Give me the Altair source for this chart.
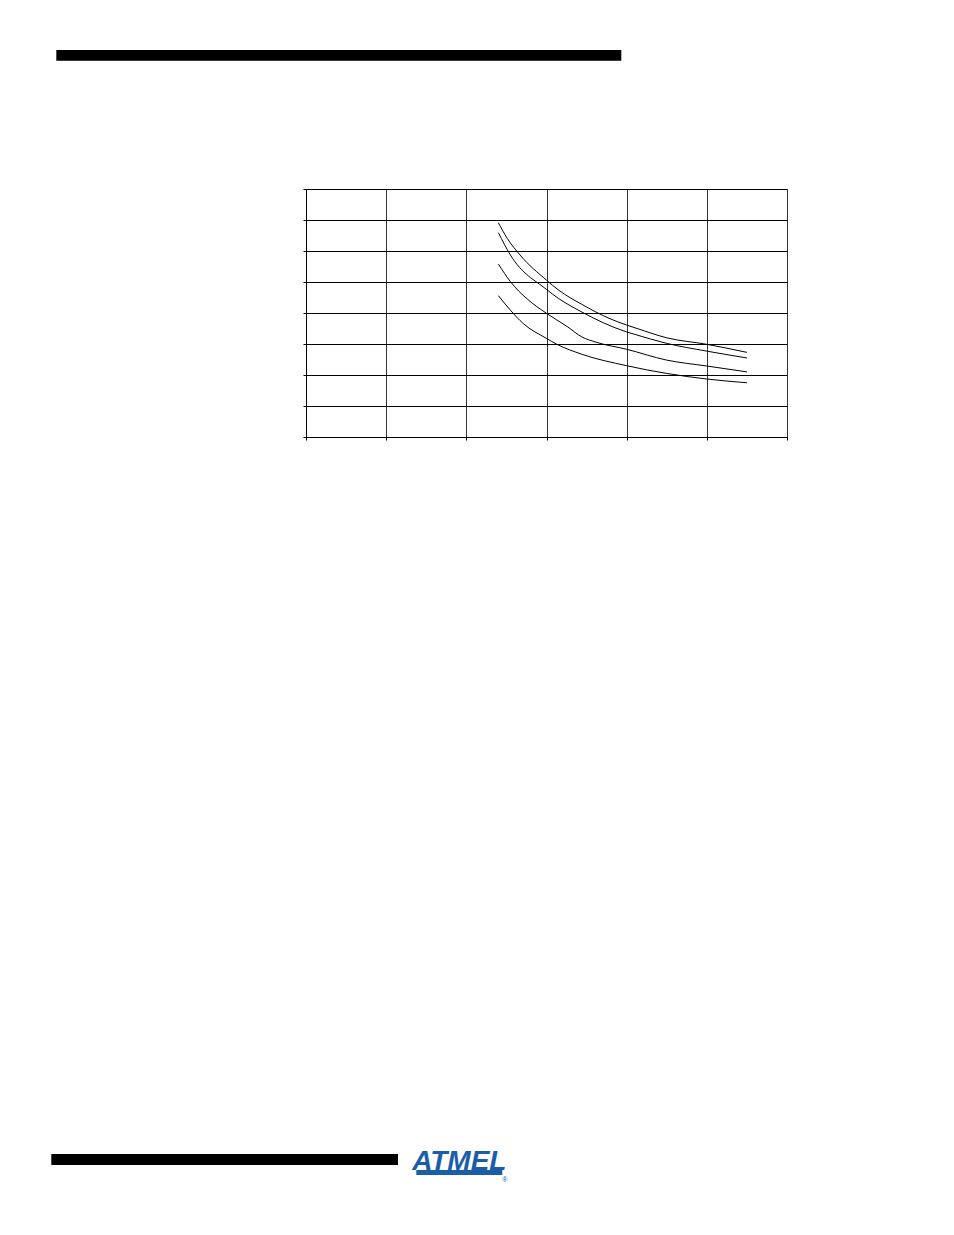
import altair as alt
import pandas as pd

# Curves (x in grid columns 0..6, y in grid rows 0..8)
x1 = [2.40, 2.51, 2.67, 3.00, 3.15, 3.44, 3.78, 4.00, 4.13, 4.50, 5.00, 5.50]
y1 = [6.91, 6.41, 5.87, 5.06, 4.74, 4.28, 3.83, 3.61, 3.50, 3.20, 2.99, 2.73]

x2 = [2.40, 2.55, 3.00, 3.15, 3.42, 4.00, 4.09, 4.50, 5.00, 5.50]
y2 = [6.59, 5.87, 4.76, 4.47, 4.06, 3.39, 3.32, 3.02, 2.77, 2.55]

x3 = [2.40, 2.55, 2.76, 3.00, 3.26, 3.44, 3.63, 4.00, 4.50, 5.00, 5.50]
y3 = [5.58, 5.01, 4.45, 3.99, 3.56, 3.23, 3.05, 2.83, 2.48, 2.29, 2.10]

x4 = [2.40, 2.55, 2.71, 3.00, 3.13, 3.44, 4.00, 4.50, 5.00, 5.50]
y4 = [4.56, 4.09, 3.66, 3.18, 2.99, 2.67, 2.30, 2.05, 1.87, 1.75]

x_ticks = [0, 1, 2, 3, 4, 5, 6]
y_ticks = [0, 1, 2, 3, 4, 5, 6, 7, 8]

rows = []
for name, xs, ys in [("c1", x1, y1), ("c2", x2, y2), ("c3", x3, y3), ("c4", x4, y4)]:
    for i, (a, b) in enumerate(zip(xs, ys)):
        rows.append({"series": name, "x": a, "y": b, "order": i})
df = pd.DataFrame(rows)

W, H = 481, 248

lines = alt.Chart(df).mark_line(color="black", strokeWidth=1, interpolate="monotone").encode(
    x=alt.X("x:Q", scale=alt.Scale(domain=[0, 6], nice=False, zero=False),
            axis=alt.Axis(values=x_ticks, labels=False, title=None, grid=True,
                          gridColor="#333333", gridOpacity=1, gridWidth=1,
                          tickColor="black", tickSize=3, domainColor="black")),
    y=alt.Y("y:Q", scale=alt.Scale(domain=[0, 8], nice=False, zero=False),
            axis=alt.Axis(values=y_ticks, labels=False, title=None, grid=True,
                          gridColor="black", gridOpacity=1, gridWidth=1,
                          tickColor="black", tickSize=3, domainColor="black")),
    detail="series:N",
    order="order:Q",
)

one = pd.DataFrame({"k": [0]})
base = alt.Chart(one)

top_bar = base.mark_rect(color="black").encode(
    x=alt.value(-249.7), x2=alt.value(315.3), y=alt.value(-138.9), y2=alt.value(-128.2))
bottom_bar = base.mark_rect(color="black").encode(
    x=alt.value(-254.7), x2=alt.value(92), y=alt.value(965.1), y2=alt.value(976.1))
logo_band = base.mark_rect(color="#1a5ea8").encode(
    x=alt.value(110.3), x2=alt.value(196.3), y=alt.value(981.1), y2=alt.value(986.1))
logo_text = base.mark_text(text="ATMEL", color="#1a5ea8", font="Liberation Sans",
                           fontWeight="bold", fontStyle="italic", fontSize=28,
                           align="center", baseline="alphabetic").encode(
    x=alt.value(153.3), y=alt.value(980.6))
logo_r = base.mark_text(text="®", color="#1a5ea8", font="Liberation Sans", fontSize=7,
                        align="center", baseline="middle").encode(
    x=alt.value(198.8), y=alt.value(991.1))

chart = alt.layer(lines, top_bar, bottom_bar, logo_band, logo_text, logo_r).properties(
    width=W, height=H,
    autosize=alt.AutoSizeParams(type="none"),
    padding={"left": 298, "top": 181, "right": 155, "bottom": 780},
).configure_view(stroke=None).configure(background="white")

chart.save("out.html", embed_options={"renderer": "svg", "actions": False})
